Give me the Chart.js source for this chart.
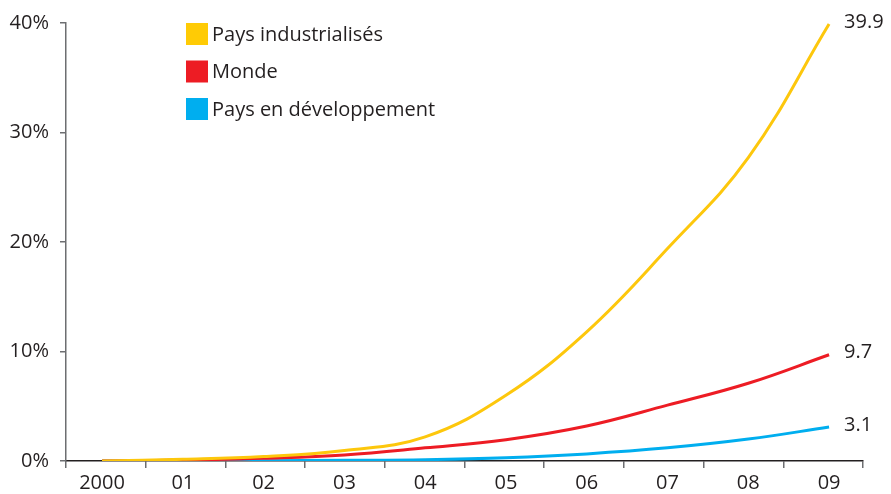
<!DOCTYPE html>
<html lang="fr">
<head>
<meta charset="utf-8">
<title>Pénétration</title>
<script src="https://cdn.jsdelivr.net/npm/chart.js@4.4.1/dist/chart.umd.min.js"></script>
<style>
  html, body { margin: 0; padding: 0; background: #fff; }
  #wrap { width: 891px; height: 494px; position: relative; }
</style>
</head>
<body>
<div id="wrap"><canvas id="chart"></canvas></div>
<script>
// données (en %)
const years = ["2000", "01", "02", "03", "04", "05", "06", "07", "08", "09"];
const industrialises = [0, 0.15, 0.4, 0.95, 2.2, 6.0, 11.8, 19.4, 27.7, 39.9];
const monde = [0, 0.08, 0.25, 0.55, 1.2, 1.95, 3.2, 5.1, 7.1, 9.7];
const developpement = [0, 0, 0.02, 0.06, 0.12, 0.3, 0.65, 1.2, 2.0, 3.1];

const yTicks = [0, 10, 20, 30, 40];

const TEXT = '#231f20';
const AXIS_GREY = '#6d6e71';
const FONT = "'Open Sans', 'Noto Sans', sans-serif";

function toPoints(values) {
    return values.map((v, i) => ({ x: i, y: v }));
}

// légende dessinée dans la zone du graphique
const legendInside = {
    id: 'legendInside',
    afterDraw(chart) {
        const { ctx, chartArea } = chart;
        const x0 = chartArea.left + 120;
        ctx.save();
        ctx.font = "20px " + FONT;
        ctx.textBaseline = 'middle';
        ctx.textAlign = 'left';
        chart.data.datasets.forEach((ds, i) => {
            const y = chartArea.top + i * 37.5;
            ctx.fillStyle = ds.legendColor || ds.borderColor;
            ctx.fillRect(x0, y, 22, 22);
            ctx.fillStyle = TEXT;
            ctx.fillText(ds.label, x0 + 26, y + 12);
        });
        ctx.restore();
    }
};

// valeurs en bout de courbe
const endValues = {
    id: 'endValues',
    afterDatasetsDraw(chart) {
        const { ctx } = chart;
        ctx.save();
        ctx.font = "20px " + FONT;
        ctx.fillStyle = TEXT;
        ctx.textBaseline = 'middle';
        ctx.textAlign = 'left';
        chart.data.datasets.forEach((ds, i) => {
            const meta = chart.getDatasetMeta(i);
            const pt = meta.data[meta.data.length - 1];
            const v = ds.data[ds.data.length - 1].y;
            ctx.fillText(v.toFixed(1), pt.x + 15, pt.y - 2);
        });
        ctx.restore();
    }
};

const X_MIN = -0.446;
const X_MAX = 9.42;

new Chart(document.getElementById('chart'), {
    type: 'line',
    data: {
        datasets: [
            {
                label: 'Pays industrialisés',
                data: toPoints(industrialises),
                borderColor: '#fdc70c',
                legendColor: '#ffcb05'
            },
            {
                label: 'Monde',
                data: toPoints(monde),
                borderColor: '#ed1c24'
            },
            {
                label: 'Pays en développement',
                data: toPoints(developpement),
                borderColor: '#00aeef'
            }
        ]
    },
    options: {
        responsive: true,
        maintainAspectRatio: false,
        animation: false,
        layout: { padding: { top: 22, right: 28, left: 0, bottom: 0 } },
        elements: {
            line: { borderWidth: 3, tension: 0.4, fill: false, capBezierPoints: true },
            point: { radius: 0, hoverRadius: 0 }
        },
        plugins: {
            legend: { display: false },
            tooltip: { enabled: false }
        },
        scales: {
            x: {
                type: 'linear',
                min: X_MIN,
                max: X_MAX,
                afterBuildTicks(scale) {
                    const t = [];
                    // repères entre les années (bordures de catégories)
                    for (let k = 0; k <= 10; k++) {
                        t.push({ value: X_MIN + k * (X_MAX - X_MIN) / 10, boundary: true });
                    }
                    years.forEach((y, i) => t.push({ value: i }));
                    t.sort((a, b) => a.value - b.value);
                    scale.ticks = t;
                },
                afterFit(scale) { scale.height = 33; },
                border: { display: true, color: TEXT, width: 1.5 },
                grid: {
                    drawOnChartArea: false,
                    drawTicks: true,
                    tickLength: 7,
                    lineWidth: 1.5,
                    color: (c) => (c.tick && c.tick.boundary ? AXIS_GREY : 'rgba(0,0,0,0)')
                },
                ticks: {
                    autoSkip: false,
                    maxRotation: 0,
                    padding: 3,
                    color: TEXT,
                    font: { family: FONT, size: 20 },
                    callback: (value, index, ticks) => (ticks[index].boundary ? '' : years[Math.round(value)])
                }
            },
            y: {
                min: 0,
                max: 40,
                afterBuildTicks(scale) {
                    scale.ticks = yTicks.map(v => ({ value: v }));
                },
                afterFit(scale) { scale.width = 66; },
                border: { display: true, color: AXIS_GREY, width: 1.5 },
                grid: {
                    drawOnChartArea: false,
                    drawTicks: true,
                    tickLength: 6,
                    lineWidth: 1.5,
                    color: AXIS_GREY
                },
                ticks: {
                    padding: 11,
                    color: TEXT,
                    font: { family: FONT, size: 20 },
                    callback: (v) => v + '%'
                }
            }
        }
    },
    plugins: [legendInside, endValues]
});
</script>
</body>
</html>
